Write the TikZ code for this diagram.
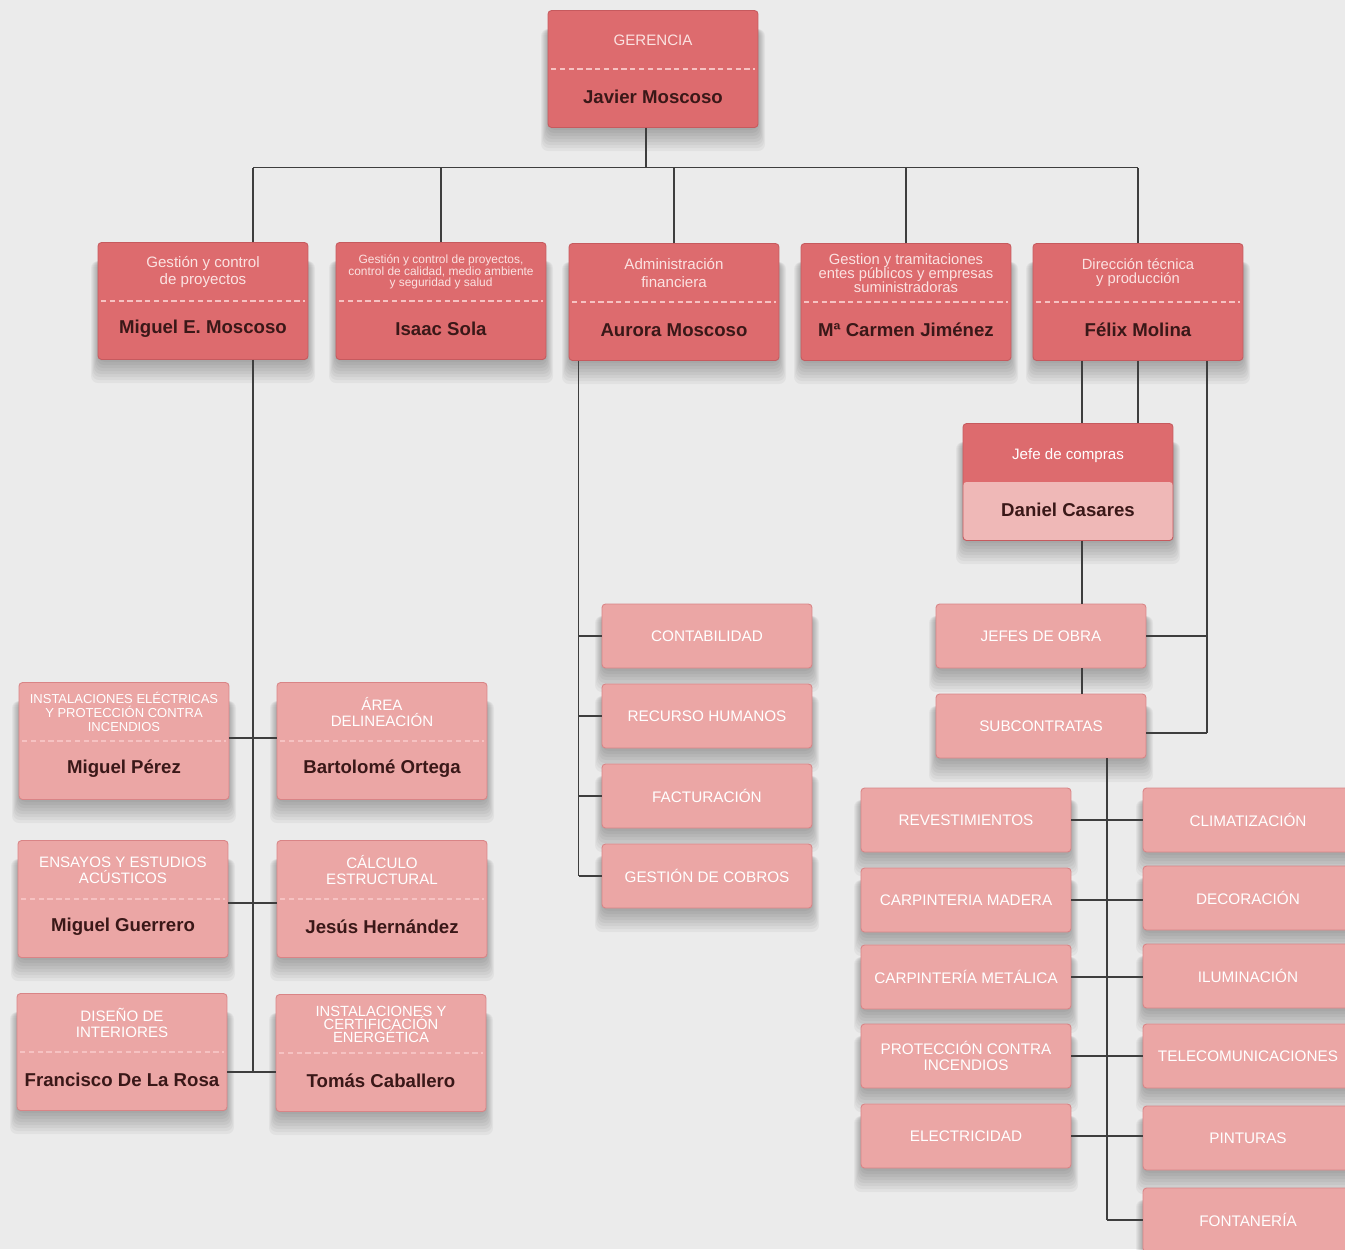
\documentclass[tikz,border=0pt]{standalone}
\usepackage{fontspec}
\setmainfont{Liberation Sans}
\definecolor{bgcol}{HTML}{EBEBEB}
\definecolor{cardred}{HTML}{DD6B6E}
\definecolor{cardedge}{HTML}{C65A5E}
\definecolor{cardpink}{HTML}{EBA6A5}
\definecolor{pinkedge}{HTML}{D98486}
\definecolor{headtxt}{HTML}{FBE2E1}
\definecolor{nametxt}{HTML}{3A1818}
\definecolor{sepcol}{HTML}{F6C2C2}
\definecolor{linegray}{HTML}{3E3E3E}
\begin{document}
\begin{tikzpicture}[x=0.02cm, y=-0.02cm,
	link/.style={draw=linegray, line width=0.6pt},
	shade/.style={fill=black, opacity=0.04, rounded corners=4pt},
	card/.style={rectangle, rounded corners=2pt, minimum width=4.2cm, minimum height=2.34cm,
		fill=cardred, draw=cardedge, line width=0.5pt},
	lcard/.style={card, fill=cardpink, draw=pinkedge},
	tab/.style={lcard, minimum height=1.28cm, align=center, text=white, font=\fontsize{8.7}{9.4}\selectfont},
	head/.style={align=center, text=headtxt, font=\fontsize{8.6}{10}\selectfont},
	hsmall/.style={head, font=\fontsize{6.8}{6.6}\selectfont},
	hmid/.style={head, font=\fontsize{8.4}{8}\selectfont},
	hcap/.style={head, text=white, font=\fontsize{8.6}{9}\selectfont},
	hcaps/.style={head, text=white, font=\fontsize{7.4}{8}\selectfont},
	hcapt/.style={head, text=white, font=\fontsize{8.4}{7.4}\selectfont},
	who/.style={text=nametxt, font=\fontsize{10.6}{13}\selectfont\bfseries},
	sep/.style={draw=sepcol, densely dashed, line width=0.6pt}]
	\useasboundingbox (0,0) rectangle (1345,1249);
	\fill[bgcol] (0,0) rectangle (1345,1249);
	\clip (0,0) rectangle (1345,1249);

	\foreach \n/\x/\y/\c/\f/\h/\p in {
		ger/653/69/card/head/GERENCIA/Javier Moscoso,
		mem/203/301/card/head/{Gestión y control\\de proyectos}/Miguel E. Moscoso,
		isa/441/301/card/hsmall/{Gestión y control de proyectos,\\control de calidad, medio ambiente\\y seguridad y salud}/Isaac Sola,
		aur/674/302/card/head/{Administración\\financiera}/Aurora Moscoso,
		mcj/906/302/card/hmid/{Gestion y tramitaciones\\entes públicos y empresas\\suministradoras}/Mª Carmen Jiménez,
		fel/1138/302/card/hmid/{Dirección técnica\\y producción}/Félix Molina,
		ipe/124/741/lcard/hcaps/{INSTALACIONES ELÉCTRICAS\\Y PROTECCIÓN CONTRA\\INCENDIOS}/Miguel Pérez,
		bor/382/741/lcard/hcap/{ÁREA\\DELINEACIÓN}/Bartolomé Ortega,
		mgu/123/899/lcard/hcap/{ENSAYOS Y ESTUDIOS\\ACÚSTICOS}/Miguel Guerrero,
		jhe/382/899/lcard/hcap/{CÁLCULO\\ESTRUCTURAL}/Jesús Hernández,
		fro/122/1052/lcard/hcap/{DISEÑO DE\\INTERIORES}/Francisco De La Rosa,
		tca/381/1053/lcard/hcapt/{INSTALACIONES Y\\CERTIFICACIÓN\\ENERGÉTICA}/Tomás Caballero}{
		\foreach \k in {1,...,8}
			\fill[shade] (\x-104-\k,\y-40) rectangle (\x+104+\k,\y+58+3*\k);
		\node[\c] (\n) at (\x,\y) {};
		\node[\f] (\n-h) at ([yshift=0.58cm]\n.center) {\h};
		\node[who] (\n-p) at ([yshift=-0.56cm]\n.center) {\p};
		\draw[sep] ([xshift=2pt]\n.west) -- ([xshift=-2pt]\n.east);
	}

	\foreach \k in {1,...,8}
		\fill[shade] (964-\k,442) rectangle (1172+\k,540+3*\k);
	\node[card, path picture={\fill[cardpink!80!white] (path picture bounding box.west) rectangle (path picture bounding box.south east);}] (dan) at (1068,482) {};
	\node[head, text=white] (dan-h) at ([yshift=0.52cm]dan.center) {Jefe de compras};
	\node[who] (dan-p) at ([yshift=-0.56cm]dan.center) {Daniel Casares};

	\foreach \n/\x/\y/\t in {
		con/707/636/CONTABILIDAD, rhu/707/716/RECURSO HUMANOS,
		fac/707/796/FACTURACIÓN, gco/707/876/GESTIÓN DE COBROS,
		jef/1041/636/JEFES DE OBRA, sub/1041/726/SUBCONTRATAS,
		rev/966/820/REVESTIMIENTOS, cma/966/900/CARPINTERIA MADERA,
		cme/966/977/CARPINTERÍA METÁLICA, pci/966/1056/{PROTECCIÓN CONTRA\\INCENDIOS},
		ele/966/1136/ELECTRICIDAD,
		cli/1248/820/CLIMATIZACIÓN, dec/1248/898/DECORACIÓN,
		ilu/1248/976/ILUMINACIÓN, tel/1248/1056/TELECOMUNICACIONES,
		pin/1248/1138/PINTURAS, fon/1248/1220/FONTANERÍA}{
		\foreach \k in {1,...,8}
			\fill[shade] (\x-104-\k,\y-20) rectangle (\x+104+\k,\y+32+3*\k);
		\node[tab] (\n) at (\x,\y) {\t};
	}

	\coordinate (bus) at ([xshift=-0.14cm,yshift=-0.8cm]ger.south);
	\draw[link] ([xshift=-0.14cm]ger.south) -- (bus);
	\draw[link] ([xshift=1cm]mem.north |- bus) -- (fel.north |- bus);
	\draw[link] ([xshift=1cm]mem.north |- bus) -- ([xshift=1cm]mem.north);
	\foreach \n in {isa,aur,mcj,fel}
		\draw[link] (\n.north |- bus) -- (\n.north);

	\draw[link] ([yshift=0.06cm]ipe.east) -- ([yshift=0.06cm]ipe.east -| bor.west);
	\draw[link] ([yshift=-0.08cm]mgu.east) -- ([yshift=-0.08cm]mgu.east -| jhe.west);
	\draw[link] ([yshift=-0.4cm]fro.east) coordinate (s3) -- (s3 -| tca.west);
	\draw[link] ([xshift=1cm]mem.south) -- ([xshift=1cm]mem.south |- s3);

	\draw[link] ([xshift=0.2cm]aur.south west) -- ([xshift=0.2cm]aur.south west |- gco.west);
	\foreach \n in {con,rhu,fac,gco}
		\draw[link] (\n.west) -- ([xshift=0.2cm]\n.west -| aur.south west);

	\draw[link] ([xshift=-1.12cm]fel.south) -- ([xshift=-1.12cm]fel.south |- dan.north);
	\draw[link] (fel.south) -- (fel.south |- dan.north);
	\draw[link] ([xshift=1.38cm]fel.south) coordinate (ft) -- ([yshift=-0.14cm]ft |- sub.east);
	\draw[link] (jef.east) -- (jef.east -| ft);
	\draw[link] ([yshift=-0.14cm]sub.east) -- ([yshift=-0.14cm]sub.east -| ft);

	\draw[link] ([xshift=0.28cm]dan.south) -- ([xshift=0.28cm]dan.south |- jef.north);
	\draw[link] ([xshift=0.28cm]dan.south |- jef.south) -- ([xshift=0.28cm]dan.south |- sub.north);

	\coordinate (st) at ([xshift=1.32cm]sub.south);
	\draw[link] (st) -- (st |- fon.west);
	\foreach \a/\b in {rev/cli,cma/dec,cme/ilu,pci/tel,ele/pin}
		\draw[link] (\a.east) -- (\a.east -| \b.west);
	\draw[link] (fon.west) -- (fon.west -| st);
\end{tikzpicture}
\end{document}
